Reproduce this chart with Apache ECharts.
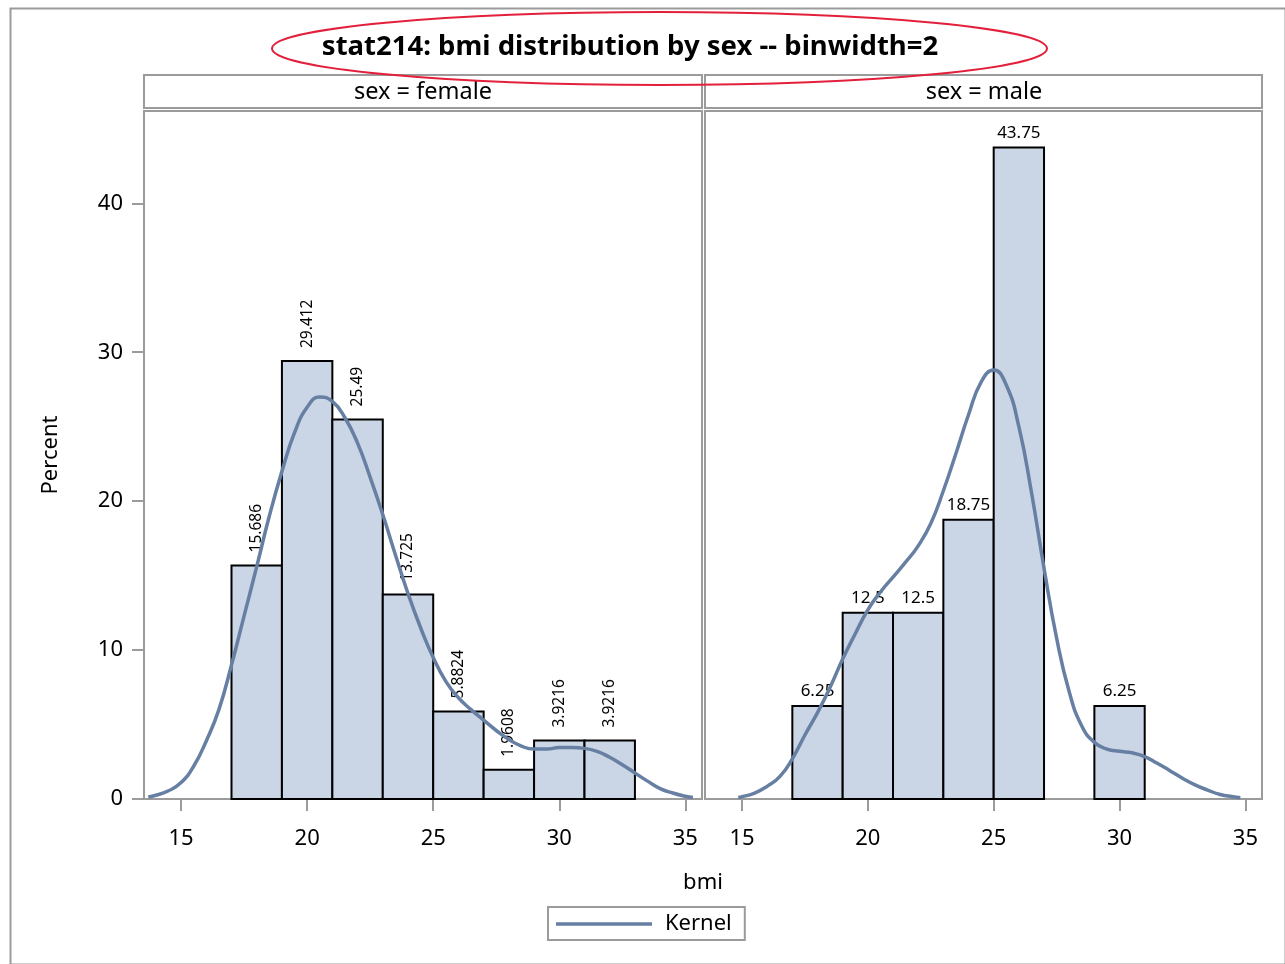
<!DOCTYPE html>
<html>
<head>
<meta charset="utf-8">
<title>stat214: bmi distribution by sex</title>
<script src="https://cdn.jsdelivr.net/npm/echarts@6/dist/echarts.min.js"></script>
<style>
  html, body { margin: 0; padding: 0; background: #fff; }
  #chart { width: 1285px; height: 964px; }
</style>
</head>
<body>
<div id="chart"></div>
<script>
// Histogram bins (binwidth = 2) shared by both panels
const binStarts = [17, 19, 21, 23, 25, 27, 29, 31];
const binWidth = 2;

// Percent of each sex falling in each bin
const femalePercent = [15.686, 29.412, 25.49, 13.725, 5.8824, 1.9608, 3.9216, 3.9216];
const malePercent = [6.25, 12.5, 12.5, 18.75, 43.75, 0, 6.25];

// Kernel density estimates, expressed in percent: [bmi, percent]
const femaleKernel = [
  [13.7, 0.13], [14.0, 0.25], [14.5, 0.55], [15.0, 1.1], [15.5, 2.2], [16.0, 3.9],
  [16.5, 6.0], [17.0, 9.0], [17.5, 12.3], [18.0, 15.6], [18.5, 19.0], [19.0, 22.0],
  [19.5, 24.6], [20.0, 26.3], [20.5, 27.0], [21.0, 26.7], [21.5, 25.6], [22.0, 23.9],
  [22.5, 21.6], [23.0, 19.1], [23.5, 16.4], [24.0, 13.8], [24.5, 11.5], [25.0, 9.5],
  [25.5, 7.9], [26.0, 6.8], [26.5, 6.0], [27.0, 5.3], [27.5, 4.6], [28.0, 4.0],
  [28.5, 3.55], [29.0, 3.35], [29.5, 3.35], [30.0, 3.45], [30.5, 3.45], [31.0, 3.4],
  [31.5, 3.2], [32.0, 2.8], [32.5, 2.3], [33.0, 1.75], [33.5, 1.2], [34.0, 0.7],
  [34.5, 0.4], [35.0, 0.18], [35.3, 0.1]
];
const maleKernel = [
  [14.85, 0.1], [15.0, 0.15], [15.5, 0.4], [16.0, 0.85], [16.5, 1.5], [17.0, 2.7],
  [17.5, 4.3], [18.0, 5.8], [18.5, 7.5], [19.0, 9.4], [19.5, 11.1], [20.0, 12.7],
  [20.5, 13.9], [21.0, 14.9], [21.5, 15.9], [22.0, 17.0], [22.5, 18.5], [23.0, 20.7],
  [23.5, 23.2], [24.0, 25.8], [24.5, 28.0], [25.0, 28.8], [25.5, 27.8], [26.0, 25.0],
  [26.5, 20.6], [27.0, 15.5], [27.5, 10.8], [28.0, 7.2], [28.5, 4.9], [29.0, 3.8],
  [29.5, 3.35], [30.0, 3.2], [30.5, 3.1], [31.0, 2.85], [31.5, 2.4], [32.0, 1.9],
  [32.5, 1.4], [33.0, 0.95], [33.5, 0.6], [34.0, 0.3], [34.5, 0.15], [34.8, 0.08]
];

// Axis ticks
const xTicks = [15, 20, 25, 30, 35];
const yTicks = [0, 10, 20, 30, 40];

const panelLabels = ['sex = female', 'sex = male'];
const titleText = 'stat214: bmi distribution by sex -- binwidth=2';

const FONT = '"Noto Sans", "Open Sans", sans-serif';
const FRAME = '#9b9b9b';
const FILL = '#cad5e5';
const FIT = '#667fa2';

function binData(values) {
  return values.map((v, i) => [binStarts[i], binStarts[i] + binWidth, v]);
}

// Draws one histogram bar plus its value label
function makeBarRenderer(rotatedLabels) {
  return function (params, api) {
    const x0 = api.value(0), x1 = api.value(1), v = api.value(2);
    if (!v) return null;
    const topLeft = api.coord([x0, v]);
    const bottomRight = api.coord([x1, 0]);
    const cx = (topLeft[0] + bottomRight[0]) / 2;
    const label = rotatedLabels
      ? {
          type: 'text', x: cx, y: topLeft[1] - 13, rotation: Math.PI / 2,
          style: { text: String(v), fill: '#000', font: '15.5px ' + FONT, align: 'left', verticalAlign: 'middle' }
        }
      : {
          type: 'text', x: cx, y: topLeft[1] - 6,
          style: { text: String(v), fill: '#000', font: '17px ' + FONT, align: 'center', verticalAlign: 'bottom' }
        };
    return {
      type: 'group',
      children: [
        {
          type: 'rect',
          shape: { x: topLeft[0], y: topLeft[1], width: bottomRight[0] - topLeft[0], height: bottomRight[1] - topLeft[1] },
          style: { fill: FILL, stroke: '#000', lineWidth: 2 }
        },
        label
      ]
    };
  };
}

const xRange = { min: 13.53, max: 35.66 };
const yRange = { min: 0, max: 46.2 };

function xAxisFor(gridIndex) {
  return {
    type: 'value', gridIndex, min: xRange.min, max: xRange.max,
    axisLine: { show: true, lineStyle: { color: FRAME, width: 2 } },
    axisTick: { show: true, customValues: xTicks, length: 12, lineStyle: { color: FRAME, width: 2 } },
    axisLabel: { show: true, customValues: xTicks, fontSize: 22, fontFamily: FONT, color: '#000', margin: 29 },
    splitLine: { show: false }
  };
}

function yAxisFor(gridIndex, withLabels) {
  return {
    type: 'value', gridIndex, min: yRange.min, max: yRange.max,
    name: withLabels ? 'Percent' : '',
    nameLocation: 'middle', nameRotate: 90, nameGap: 82,
    nameTextStyle: { fontSize: 22, fontFamily: FONT, color: '#000' },
    axisLine: { show: withLabels, lineStyle: { color: FRAME, width: 2 } },
    axisTick: { show: withLabels, customValues: yTicks, length: 12, lineStyle: { color: FRAME, width: 2 } },
    axisLabel: { show: withLabels, customValues: yTicks, fontSize: 22, fontFamily: FONT, color: '#000', margin: 21 },
    splitLine: { show: false }
  };
}

const chart = echarts.init(document.getElementById('chart'), null, { renderer: 'canvas' });

const option = {
  animation: false,
  backgroundColor: '#fff',
  textStyle: { fontFamily: FONT },
  grid: [
    { left: 144, top: 111, width: 558, height: 688, show: true, borderColor: FRAME, borderWidth: 2, backgroundColor: 'transparent' },
    { left: 705, top: 111, width: 557, height: 688, show: true, borderColor: FRAME, borderWidth: 2, backgroundColor: 'transparent' }
  ],
  xAxis: [xAxisFor(0), xAxisFor(1)],
  yAxis: [yAxisFor(0, true), yAxisFor(1, false)],
  legend: {
    left: 548, top: 907,
    data: ['Kernel'],
    icon: 'rect',
    itemWidth: 96, itemHeight: 3.5, itemGap: 10,
    padding: [6, 13, 5, 8],
    borderColor: FRAME, borderWidth: 2,
    itemStyle: { color: FIT, borderWidth: 0 },
    textStyle: { fontSize: 22, fontFamily: FONT, color: '#000', padding: [0, 0, 0, 8] }
  },
  series: [
    {
      type: 'custom', name: 'female bins', xAxisIndex: 0, yAxisIndex: 0,
      renderItem: makeBarRenderer(true), data: binData(femalePercent), z: 2
    },
    {
      type: 'custom', name: 'male bins', xAxisIndex: 1, yAxisIndex: 1,
      renderItem: makeBarRenderer(false), data: binData(malePercent), z: 2
    },
    {
      type: 'line', name: 'Kernel', xAxisIndex: 0, yAxisIndex: 0,
      data: femaleKernel, smooth: 0.5, symbol: 'none', z: 4,
      lineStyle: { color: FIT, width: 3.5 }, itemStyle: { color: FIT }
    },
    {
      type: 'line', name: 'Kernel', xAxisIndex: 1, yAxisIndex: 1,
      data: maleKernel, smooth: 0.5, symbol: 'none', z: 4,
      lineStyle: { color: FIT, width: 3.5 }, itemStyle: { color: FIT }
    }
  ],
  graphic: [
    // outer frame
    { type: 'rect', left: 8, top: 6, shape: { width: 1275, height: 956 }, style: { fill: 'none', stroke: FRAME, lineWidth: 2 }, z: 0 },
    // panel header strips
    { type: 'rect', shape: { x: 144, y: 75, width: 558, height: 33 }, style: { fill: '#fff', stroke: FRAME, lineWidth: 2 }, z: 1 },
    { type: 'rect', shape: { x: 705, y: 75, width: 557, height: 33 }, style: { fill: '#fff', stroke: FRAME, lineWidth: 2 }, z: 1 },
    { type: 'text', x: 423, y: 92, style: { text: panelLabels[0], font: '23.5px ' + FONT, fill: '#000', align: 'center', verticalAlign: 'middle' }, z: 2 },
    { type: 'text', x: 984, y: 92, style: { text: panelLabels[1], font: '23.5px ' + FONT, fill: '#000', align: 'center', verticalAlign: 'middle' }, z: 2 },
    // title
    { type: 'text', x: 630, y: 47, style: { text: titleText, font: 'bold 27.5px ' + FONT, fill: '#000', align: 'center', verticalAlign: 'middle' }, z: 3 },
    // shared x axis title
    { type: 'text', x: 703, y: 883, style: { text: 'bmi', font: '22px ' + FONT, fill: '#000', align: 'center', verticalAlign: 'middle' }, z: 3 },
    // red ellipse drawn around the title
    { type: 'ellipse', shape: { cx: 659.5, cy: 48.5, rx: 387.5, ry: 36.5 }, style: { fill: 'none', stroke: '#e3203c', lineWidth: 2 }, z: 10 }
  ]
};

chart.setOption(option);
</script>
</body>
</html>
